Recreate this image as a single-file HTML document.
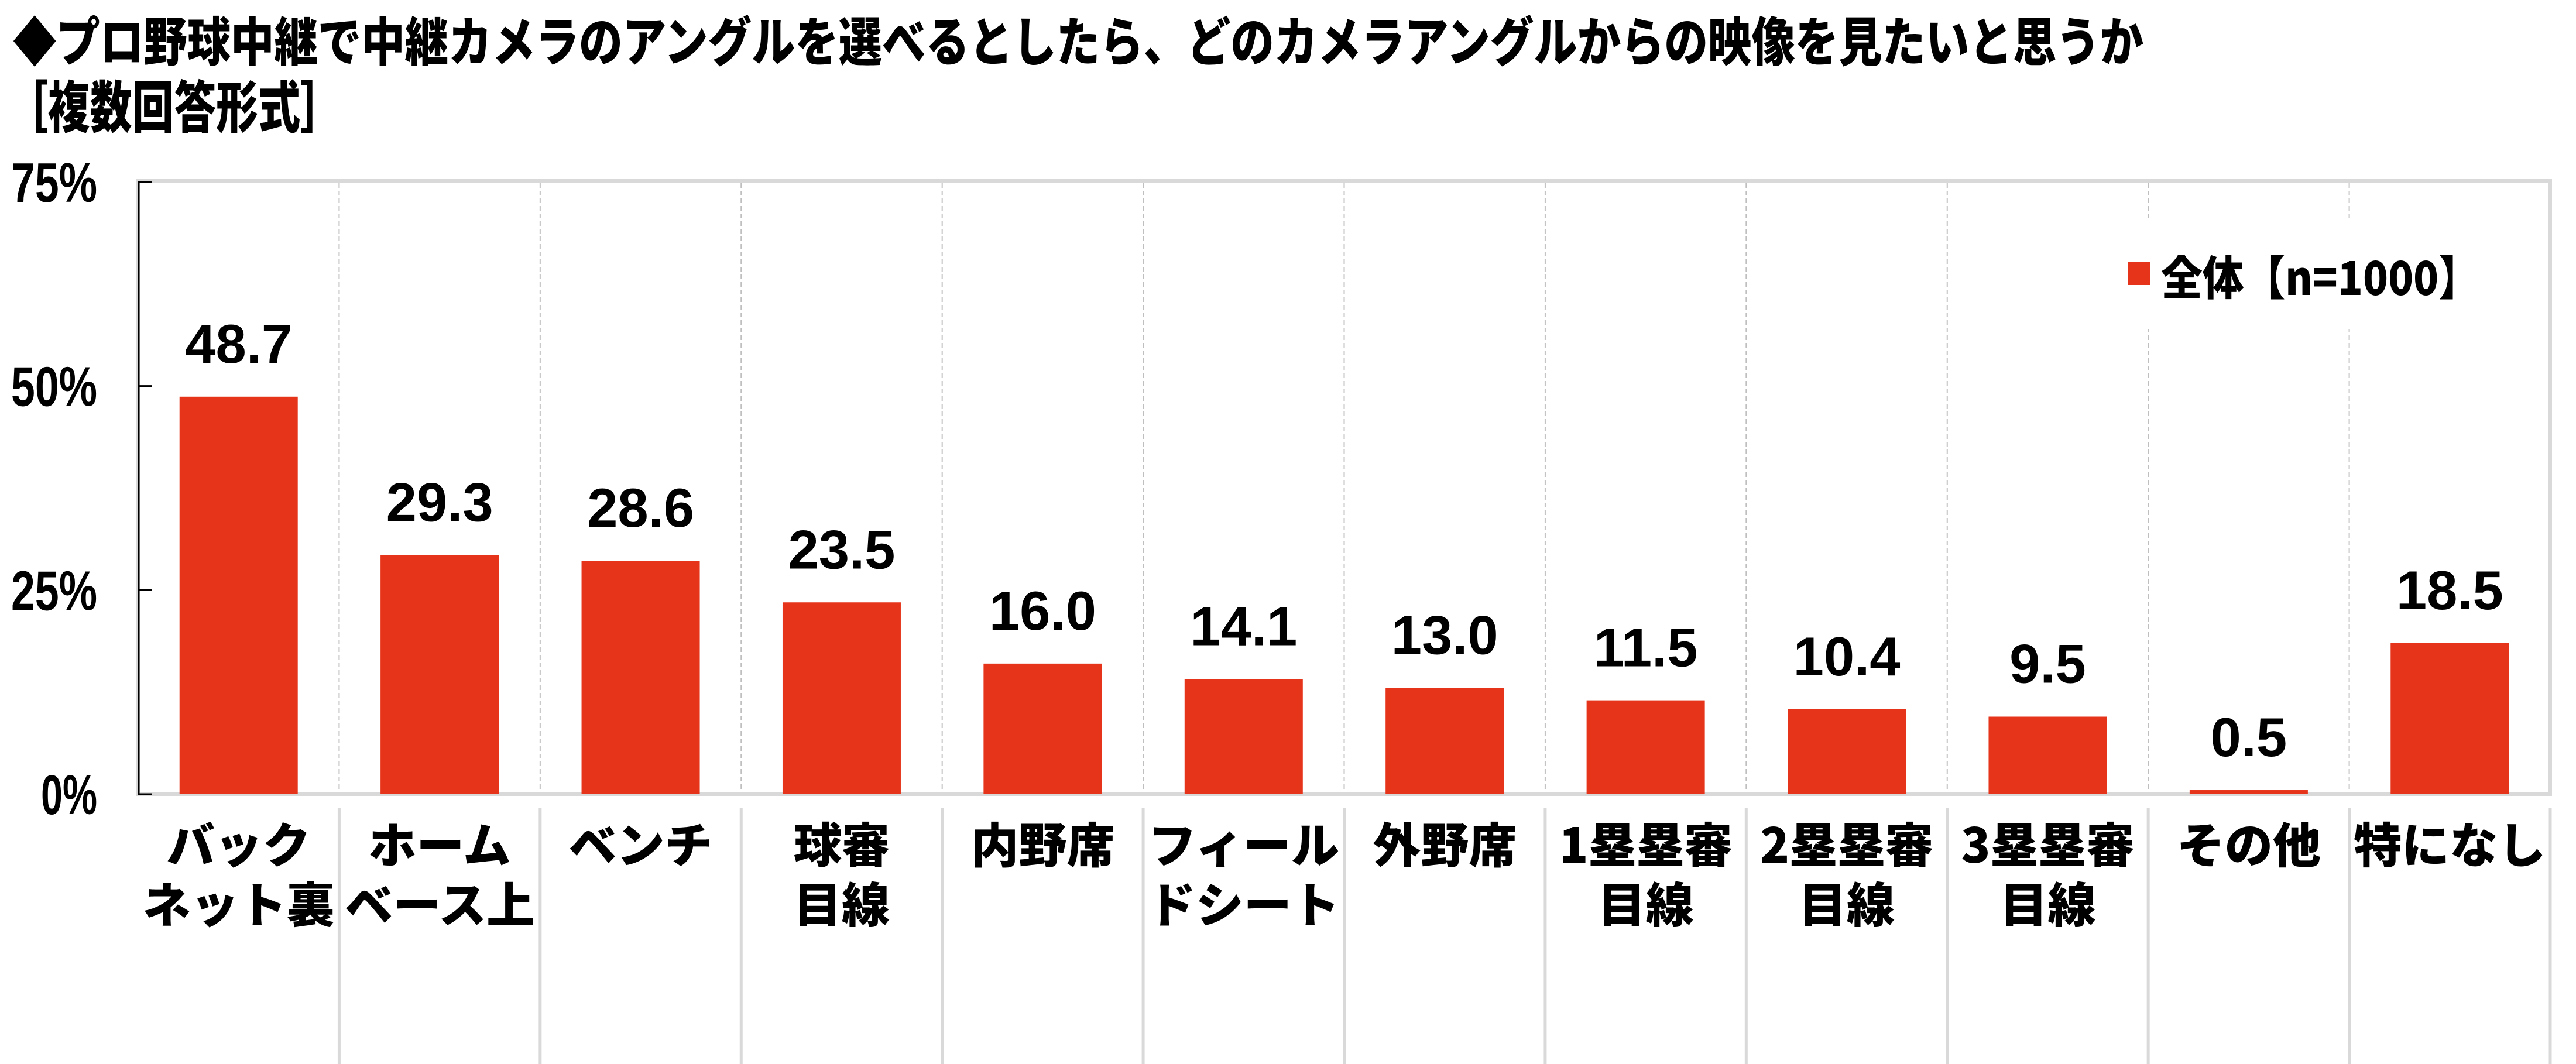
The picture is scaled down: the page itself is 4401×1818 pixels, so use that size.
<!DOCTYPE html>
<html><head><meta charset="utf-8">
<style>
html,body{margin:0;padding:0;background:#fff;}
svg{display:block;}
text{font-family:"Liberation Sans","Noto Sans CJK JP",sans-serif;font-weight:bold;fill:#000;}
.jp{font-family:"Noto Sans CJK JP","Liberation Sans",sans-serif;font-weight:900;}
</style></head>
<body>
<svg id="chart" width="4401" height="1818" viewBox="0 0 4401 1818" xmlns="http://www.w3.org/2000/svg">
  <text class="jp" x="22" y="104" font-size="90" textLength="3640" lengthAdjust="spacingAndGlyphs">◆プロ野球中継で中継カメラのアングルを選べるとしたら、どのカメラアングルからの映像を見たいと思うか</text>
  <text class="jp" x="10" y="218" font-size="96" textLength="575" lengthAdjust="spacingAndGlyphs">［複数回答形式］</text>
  <g id="grid"></g>
  <g id="bars"></g>
  <g id="labels"></g>
  <g id="axis"></g>
  <g id="legend">
    <rect x="3600" y="372" width="700" height="190" fill="#fff"/>
    <rect x="3635" y="448" width="38" height="39" fill="#e5341a"/>
    <text class="jp" x="3692" y="504" font-size="80" textLength="545" lengthAdjust="spacingAndGlyphs">全体【n=1000】</text>
  </g>
</svg>
<script>
const categories = [["バック","ネット裏"],["ホーム","ベース上"],["ベンチ"],["球審","目線"],["内野席"],["フィール","ドシート"],["外野席"],["1塁塁審","目線"],["2塁塁審","目線"],["3塁塁審","目線"],["その他"],["特になし"]];
const values = [48.7,29.3,28.6,23.5,16.0,14.1,13.0,11.5,10.4,9.5,0.5,18.5];
const yTicks = [0,25,50,75];
const yTickLabels = ["0%","25%","50%","75%"];

const NS = "http://www.w3.org/2000/svg";
const X0 = 236, X1 = 4357, Y0 = 1357, Y1 = 311, YMAX = 75;
const catW = (X1 - X0) / categories.length;
const barW = 202;
function yScale(v){ return Y0 - (v / YMAX) * (Y0 - Y1); }
function xCenter(i){ return X0 + catW * (i + 0.5); }
function mk(tag, attrs, parent){ const e = document.createElementNS(NS, tag); for (const k in attrs) e.setAttribute(k, attrs[k]); parent.appendChild(e); return e; }

const grid = document.getElementById('grid');
const bars = document.getElementById('bars');
const labels = document.getElementById('labels');
const axis = document.getElementById('axis');

let b = mk('rect', {x: X0, y: Y1 - 2, width: X1 - X0, height: Y0 - Y1 + 2, fill: 'none', stroke: '#d9d9d9', 'stroke-width': 6}, grid);



for (let i = 1; i < categories.length; i++) {
  const x = X0 + catW * i;
  const l = mk('line', {x1: x, y1: Y1 + 2, x2: x, y2: Y0 - 3, stroke: '#bfbfbf', 'stroke-width': 2, 'stroke-dasharray': '8,5'}, grid);
  
  
}
for (let i = 1; i <= categories.length; i++) {
  const x = X0 + catW * i;
  const l = mk('line', {x1: x, y1: 1380, x2: x, y2: 1818, stroke: '#d9d9d9', 'stroke-width': 5}, grid);
  
  
}

values.forEach((v, i) => {
  const cx = xCenter(i);
  const y = yScale(v);
  const r = mk('rect', {x: cx - barW / 2, y: y, width: barW, height: Y0 - y, fill: '#e5341a'}, bars);
  
  
  const t = mk('text', {x: cx, y: y - 58, 'font-size': 94, 'text-anchor': 'middle'}, labels);
  t.textContent = v.toFixed(1);
  
  
});

categories.forEach((lines, i) => {
  lines.forEach((s, j) => {
    const t = mk('text', {x: xCenter(i), y: 1474 + j * 102, 'font-size': 82, 'text-anchor': 'middle', class: 'jp'}, labels);
    t.textContent = s;
    
    
  });
});

const ax = mk('line', {x1: X0 + 1, y1: Y1 - 2, x2: X0 + 1, y2: Y0 + 1, stroke: '#000', 'stroke-width': 3}, axis);


yTicks.forEach((v, i) => {
  const y = yScale(v);
  const tk = mk('line', {x1: X0, y1: y, x2: X0 + 24, y2: y, stroke: '#000', 'stroke-width': 3}, axis);
  
  
  const s = yTickLabels[i];
  const w = s.length === 2 ? 96 : 147;
  const t = mk('text', {x: 166 - w, y: y + 34, 'font-size': 96, textLength: w, lengthAdjust: 'spacingAndGlyphs'}, axis);
  t.textContent = s;
  
  
});
</script>
</body></html>
